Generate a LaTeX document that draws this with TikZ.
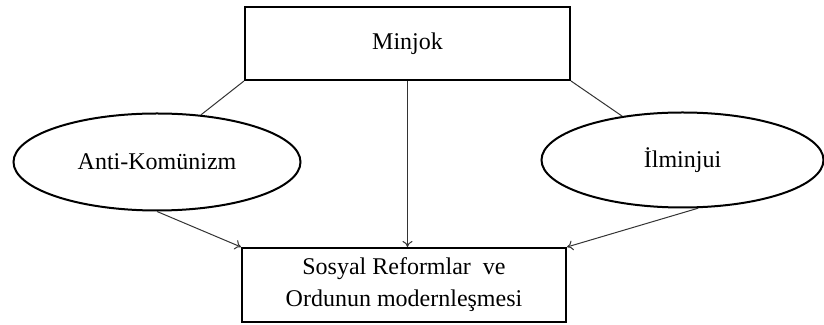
\documentclass[tikz,border=0pt]{standalone}
\usepackage{fontspec}
\setmainfont{Liberation Serif}
\usetikzlibrary{arrows.meta, shapes.geometric, calc}

\begin{document}
\begin{tikzpicture}[x=0.5pt, y=-0.5pt, every node/.style={font=\fontsize{12}{16}\selectfont},
	kutu/.style={draw, line width=1pt, rectangle, inner sep=0pt, align=center},
	elips/.style={draw, line width=1pt, ellipse, inner sep=0pt},
	bag/.style={draw=black!80, line width=0.5pt},
	ok/.style={bag, -{To[length=3pt, width=5pt]}}]
	% \draw[help lines] (0,0) grid[step=50] (824,325);
	\useasboundingbox (0,0) rectangle (824,325);

	\node[kutu, minimum width=162.5pt, minimum height=36.5pt] (minjok) at (407.5,43.5) {Minjok};
	\node[elips, minimum width=143.5pt, minimum height=48.5pt] (anti) at (157,162) {Anti-Komünizm};
	\node[elips, minimum width=141pt, minimum height=47.5pt] (ilm) at (682.5,160) {İlminjui};
	\node[kutu, minimum width=162pt, minimum height=37pt] (sosyal) at (404,285) {Sosyal Reformlar\ \ ve\\Ordunun modernleşmesi};

	\draw[bag] (minjok.south west) -- (anti.47);
	\draw[bag] (minjok.south east) -- (ilm.144);
	\draw[ok] (minjok.south) -- (minjok.south |- sosyal.north);
	\draw[ok] (anti.south) -- (sosyal.north west);
	\draw[ok] (ilm.-72) -- (sosyal.north east);
\end{tikzpicture}
\end{document}
